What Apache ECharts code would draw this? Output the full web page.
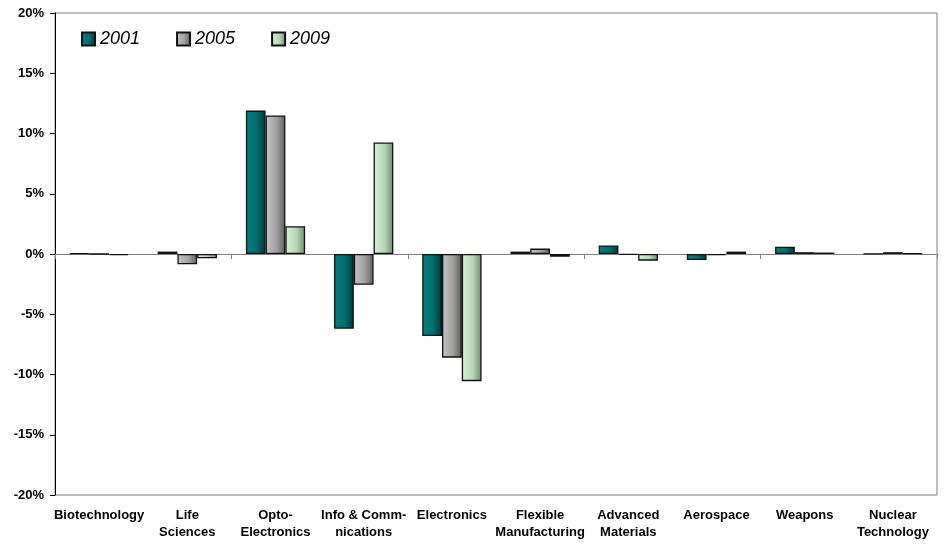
<!DOCTYPE html>
<html>
<head>
<meta charset="utf-8">
<script src="https://cdn.jsdelivr.net/npm/echarts@6/dist/echarts.min.js"></script>
<style>
html,body{margin:0;padding:0;background:#fff;}
#c{width:944px;height:548px;}
</style>
</head>
<body>
<div id="c"></div>
<script>
var categories = ['Biotechnology','Life\nSciences','Opto-\nElectronics','Info & Comm-\nnications','Electronics','Flexible\nManufacturing','Advanced\nMaterials','Aerospace','Weapons','Nuclear\nTechnology'];
var seriesNames = ['2001','2005','2009'];
var v2001 = [0.05, 0.2, 11.9, -6.2, -6.8, 0.2, 0.7, -0.5, 0.6, 0.03];
var v2005 = [0.0, -0.85, 11.5, -2.55, -8.6, 0.45, -0.05, -0.1, 0.15, 0.15];
var v2009 = [-0.1, -0.35, 2.3, 9.25, -10.55, -0.22, -0.55, 0.2, 0.12, 0.05];
var yMin = -20, yMax = 20, yStep = 5;

function grad(a, b, c) {
  return new echarts.graphic.LinearGradient(0, 0, 1, 0, [
    {offset: 0, color: a}, {offset: 0.55, color: b}, {offset: 1, color: c}
  ]);
}
var fills = [
  grad('#008080', '#006e6e', '#003838'),
  grad('#c4c4c4', '#a0a0a0', '#5e5e5e'),
  grad('#d4f0d4', '#b6d8b6', '#6e8e6e')
];
var values = [v2001, v2005, v2009];
var font = 'Liberation Sans, Arial, sans-serif';

var chart = echarts.init(document.getElementById('c'), null, {renderer: 'canvas'});
chart.setOption({
  animation: false,
  backgroundColor: '#fff',
  grid: {left: 55, right: 7, top: 13, bottom: 53, show: true, borderColor: '#808080', borderWidth: 1, containLabel: false},
  legend: {
    left: 81, top: 30, padding: 0, itemWidth: 13, itemHeight: 13, itemGap: 36, icon: 'rect',
    textStyle: {fontFamily: font, fontSize: 18, fontStyle: 'italic', color: '#000'},
    data: seriesNames
  },
  xAxis: [{
    type: 'category', data: categories, position: 'bottom',
    axisLine: {show: false, onZero: false}, axisTick: {show: false},
    axisLabel: {interval: 0, margin: 12, fontFamily: font, fontSize: 13, fontWeight: 'bold', color: '#000', lineHeight: 17}
  }, {
    type: 'category', data: categories, position: 'bottom',
    axisLine: {show: true, onZero: true, lineStyle: {color: '#808080', width: 1}},
    axisTick: {show: true, length: 5, lineStyle: {color: '#808080'}},
    axisLabel: {show: false}
  }],
  yAxis: {
    type: 'value', min: yMin, max: yMax, interval: yStep,
    axisLine: {show: true, lineStyle: {color: '#000', width: 1}},
    axisTick: {show: true, length: 5, lineStyle: {color: '#000'}},
    splitLine: {show: false},
    axisLabel: {formatter: '{value}%', margin: 11, fontFamily: font, fontSize: 13, fontWeight: 'bold', color: '#000'}
  },
  series: seriesNames.map(function (n, i) {
    return {
      name: n, type: 'bar', xAxisIndex: 0, data: values[i],
      barWidth: '22.4%', barGap: '0%',
      itemStyle: {color: fills[i], borderColor: '#111', borderWidth: 1.3}
    };
  })
});
</script>
</body>
</html>
